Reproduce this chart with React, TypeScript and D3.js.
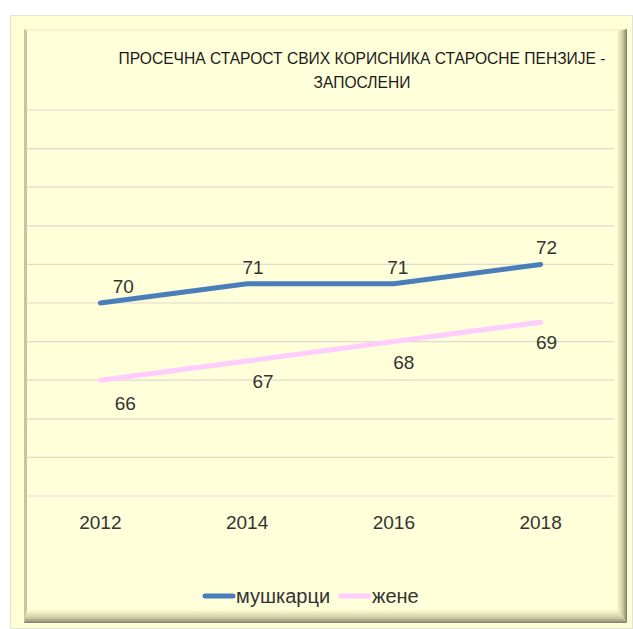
import React, { useEffect, useRef } from "react";
import { select, scalePoint, scaleLinear, line, range } from "d3";

const years = ["2012", "2014", "2016", "2018"];
const men = [70, 71, 71, 72];
const women = [66, 67, 68, 69];
const seriesNames = ["мушкарци", "жене"];
const titleLines = ["ПРОСЕЧНА СТАРОСТ СВИХ КОРИСНИКА СТАРОСНЕ ПЕНЗИЈЕ -", "ЗАПОСЛЕНИ"];
const gridTicks = range(60, 81, 2);

// label nudges (px) – Excel put the data labels a bit off centre
const menNudge = [23, 6, 4, 6];
const womenNudge = [25, 16, 10, 6];

const W = 633;
const H = 629;
const FONT = "'Liberation Sans', Arial, sans-serif";

const App = () => {
  const svgRef = useRef<SVGSVGElement>(null);

  useEffect(() => {
    const svg = select(svgRef.current);
    svg.selectAll("*").remove();

    const defs = svg.append("defs");
    const gr = defs.append("linearGradient").attr("id", "bevR").attr("x1", 0).attr("x2", 1).attr("y1", 0).attr("y2", 0);
    gr.append("stop").attr("offset", "0%").attr("stop-color", "#fbfbd2");
    gr.append("stop").attr("offset", "55%").attr("stop-color", "#cfcfa6");
    gr.append("stop").attr("offset", "85%").attr("stop-color", "#9c9c80");
    gr.append("stop").attr("offset", "100%").attr("stop-color", "#77776a");
    const gb = defs.append("linearGradient").attr("id", "bevB").attr("x1", 0).attr("x2", 0).attr("y1", 0).attr("y2", 1);
    gb.append("stop").attr("offset", "0%").attr("stop-color", "#fbfbd2");
    gb.append("stop").attr("offset", "55%").attr("stop-color", "#d2d2a8");
    gb.append("stop").attr("offset", "85%").attr("stop-color", "#a2a285");
    gb.append("stop").attr("offset", "100%").attr("stop-color", "#7a7a6c");

    // outer chart area
    svg.append("rect").attr("x", 10.5).attr("y", 15.5).attr("width", W - 11).attr("height", H - 16)
      .attr("fill", "#ffffd6").attr("stroke", "#e4e4d6");

    // bevelled plot panel
    const L = 24, T = 29, R = 627, B = 623;
    const li = 27, ti = 31, ri = 617, bi = 610;
    svg.append("rect").attr("x", li).attr("y", ti).attr("width", ri - li).attr("height", bi - ti).attr("fill", "#ffffd9");
    svg.append("polygon").attr("points", `${L},${T} ${R},${T} ${ri},${ti} ${li},${ti}`).attr("fill", "#f3f3cf");
    svg.append("polygon").attr("points", `${L},${T} ${li},${ti} ${li},${bi} ${L},${B}`).attr("fill", "#c6c698");
    svg.append("polygon").attr("points", `${R},${T} ${R},${B} ${ri},${bi} ${ri},${ti}`).attr("fill", "url(#bevR)");
    svg.append("polygon").attr("points", `${L},${B} ${R},${B} ${ri},${bi} ${li},${bi}`).attr("fill", "url(#bevB)");

    const x = scalePoint().domain(years).range([27, 614]).padding(0.5);
    const y = scaleLinear().domain([60, 80]).range([496, 110]);

    svg.append("g").selectAll("line").data(gridTicks).join("line")
      .attr("x1", 27).attr("x2", 614)
      .attr("y1", (d) => y(d)).attr("y2", (d) => y(d))
      .attr("stroke", (d) => (d === 60 ? "#d6dbe6" : "#dcdcd2")).attr("stroke-width", 1.2);

    svg.append("g").selectAll("text").data(titleLines).join("text")
      .attr("x", 362).attr("y", (d, i) => 64 + i * 24)
      .attr("text-anchor", "middle").attr("font-family", FONT).attr("font-size", 15.6)
      .attr("fill", "#1a1a1a").text((d) => d);

    svg.append("g").selectAll("text").data(years).join("text")
      .attr("x", (d) => x(d)).attr("y", 529)
      .attr("text-anchor", "middle").attr("font-family", FONT).attr("font-size", 19)
      .attr("fill", "#333").text((d) => d);

    const gen = line<number>().x((d, i) => x(years[i])).y((d) => y(d));
    svg.append("path").datum(women).attr("d", gen).attr("fill", "none")
      .attr("stroke", "#ffccff").attr("stroke-width", 5).attr("stroke-linecap", "round");
    svg.append("path").datum(men).attr("d", gen).attr("fill", "none")
      .attr("stroke", "#4a7ebb").attr("stroke-width", 5).attr("stroke-linecap", "round");

    svg.append("g").selectAll("text").data(men).join("text")
      .attr("x", (d, i) => x(years[i]) + menNudge[i]).attr("y", (d) => y(d) - 10)
      .attr("text-anchor", "middle").attr("font-family", FONT).attr("font-size", 19)
      .attr("fill", "#333").text((d) => d);
    svg.append("g").selectAll("text").data(women).join("text")
      .attr("x", (d, i) => x(years[i]) + womenNudge[i]).attr("y", (d, i) => y(d) + (i === 0 ? 30 : 27))
      .attr("text-anchor", "middle").attr("font-family", FONT).attr("font-size", 19)
      .attr("fill", "#333").text((d) => d);

    // legend
    const legend = [
      { name: seriesNames[0], color: "#4a7ebb", x0: 205, tx: 236 },
      { name: seriesNames[1], color: "#ffccff", x0: 341, tx: 372 },
    ];
    const lg = svg.append("g").selectAll("g").data(legend).join("g");
    lg.append("line").attr("x1", (d) => d.x0).attr("x2", (d) => d.x0 + 28)
      .attr("y1", 596).attr("y2", 596).attr("stroke", (d) => d.color)
      .attr("stroke-width", 5).attr("stroke-linecap", "round");
    lg.append("text").attr("x", (d) => d.tx).attr("y", 603)
      .attr("font-family", FONT).attr("font-size", 20).attr("fill", "#333").text((d) => d.name);
  }, []);

  return (
    <div style={{ position: "absolute", left: 0, top: 0, background: "#fff" }}>
      <svg ref={svgRef} width={W} height={H} style={{ display: "block" }} />
    </div>
  );
};

export default App;
